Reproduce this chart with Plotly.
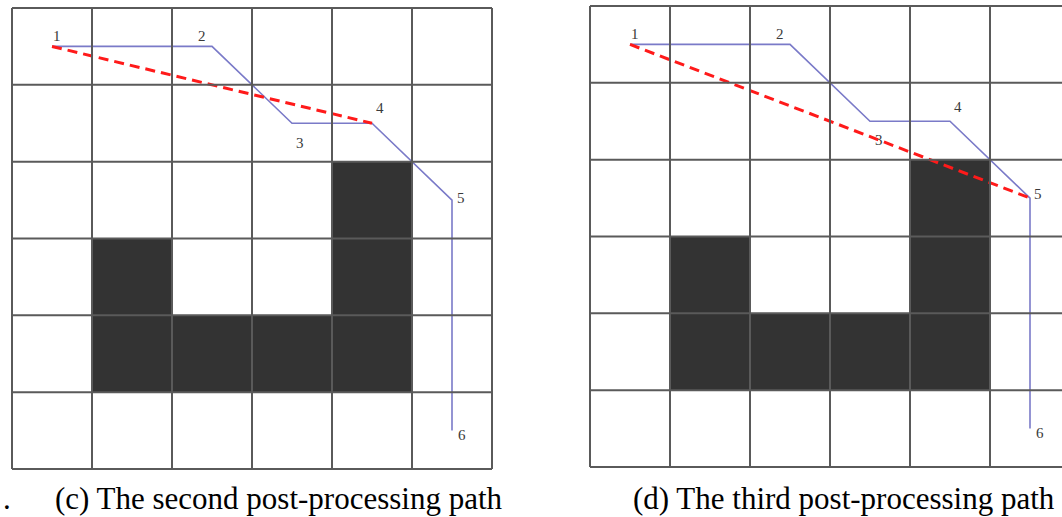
import plotly.graph_objects as go

# ---- data ----
grid_n = 6
path_x = [0.5, 2.5, 3.5, 4.5, 5.5, 5.5]
path_y = [0.5, 0.5, 1.5, 1.5, 2.5, 5.5]
path_labels = ["1", "2", "3", "4", "5", "6"]
obstacle_cols = [1, 1, 2, 3, 4, 4, 4]
obstacle_rows = [3, 4, 4, 4, 4, 3, 2]
shortcut_left = [0, 3]    # point 1 -> point 4
shortcut_right = [0, 4]   # point 1 -> point 5
captions = ["(c) The second post-processing path", "(d) The third post-processing path"]

# label pixel offsets (xshift, yshift) per panel
label_off_left = [(5, 10), (-10, 10), (8, -20), (8, 15), (9, 2), (10, -4)]
label_off_right = [(5, 10), (-10, 10), (9, -19), (8, 14), (8, 4), (10, -4)]

W, H = 1062, 517
fig = go.Figure()

panels = [
    dict(xa="x", ya="y", x0px=12, y0px=8, y6px=469, dom=[0, 0.5], px_start=0,
         sc=shortcut_left, off=label_off_left),
    dict(xa="x2", ya="y2", x0px=590, y0px=6, y6px=467, dom=[0.5, 1], px_start=531,
         sc=shortcut_right, off=label_off_right),
]

for i, p in enumerate(panels):
    xa, ya = p["xa"], p["ya"]
    # obstacles
    for c, r in zip(obstacle_cols, obstacle_rows):
        fig.add_shape(type="rect", xref=xa, yref=ya, x0=c, x1=c + 1, y0=r, y1=r + 1,
                      fillcolor="#333333", line=dict(width=0), layer="below")
    # grid lines
    for k in range(grid_n + 1):
        fig.add_shape(type="line", xref=xa, yref=ya, x0=k, x1=k, y0=0, y1=grid_n,
                      line=dict(color="#5a5a5a", width=2))
        fig.add_shape(type="line", xref=xa, yref=ya, x0=0, x1=grid_n, y0=k, y1=k,
                      line=dict(color="#5a5a5a", width=2))
    # path
    fig.add_trace(go.Scatter(x=path_x, y=path_y, mode="lines", xaxis=xa, yaxis=ya,
                             line=dict(color="#7a7ac8", width=1.6), showlegend=False,
                             hoverinfo="skip"))
    # shortcut
    fig.add_trace(go.Scatter(x=[path_x[j] for j in p["sc"]], y=[path_y[j] for j in p["sc"]],
                             mode="lines", xaxis=xa, yaxis=ya,
                             line=dict(color="#ff1a1a", width=3, dash="10px,6px"),
                             showlegend=False, hoverinfo="skip"))
    # labels
    for j, lab in enumerate(path_labels):
        dx, dy = p["off"][j]
        fig.add_annotation(x=path_x[j], y=path_y[j], xref=xa, yref=ya, text=lab,
                           showarrow=False, xshift=dx, yshift=dy,
                           font=dict(family="Liberation Serif", size=15, color="#3a3a3a"))
    # axes
    scale = 80.0
    x_lo = (p["px_start"] - p["x0px"]) / scale
    x_hi = (p["px_start"] + W / 2 - p["x0px"]) / scale
    yscale = (p["y6px"] - p["y0px"]) / grid_n
    y_top = -p["y0px"] / yscale
    y_bot = (H - p["y0px"]) / yscale
    axname = "xaxis" if i == 0 else "xaxis2"
    ayname = "yaxis" if i == 0 else "yaxis2"
    fig.layout[axname] = dict(domain=p["dom"], range=[x_lo, x_hi], visible=False,
                              anchor=ya)
    fig.layout[ayname] = dict(domain=[0, 1], range=[y_bot, y_top], visible=False,
                              anchor=xa)

# captions
cap_font = dict(family="Liberation Serif", size=31, color="#000")
fig.add_annotation(x=279 / W, y=1 - 498 / H, xref="paper", yref="paper", text=captions[0],
                   showarrow=False, xanchor="center", yanchor="middle", font=cap_font)
fig.add_annotation(x=7 / W, y=1 - 498 / H, xref="paper", yref="paper", text=".",
                   showarrow=False, xanchor="center", yanchor="middle", font=cap_font)
fig.add_annotation(x=844 / W, y=1 - 498 / H, xref="paper", yref="paper", text=captions[1],
                   showarrow=False, xanchor="center", yanchor="middle", font=cap_font)

fig.update_layout(width=W, height=H, margin=dict(l=0, r=0, t=0, b=0),
                  paper_bgcolor="white", plot_bgcolor="white")
fig.write_html("out.html", config={"displayModeBar": False},
               post_script="document.body.style.margin='0';")
